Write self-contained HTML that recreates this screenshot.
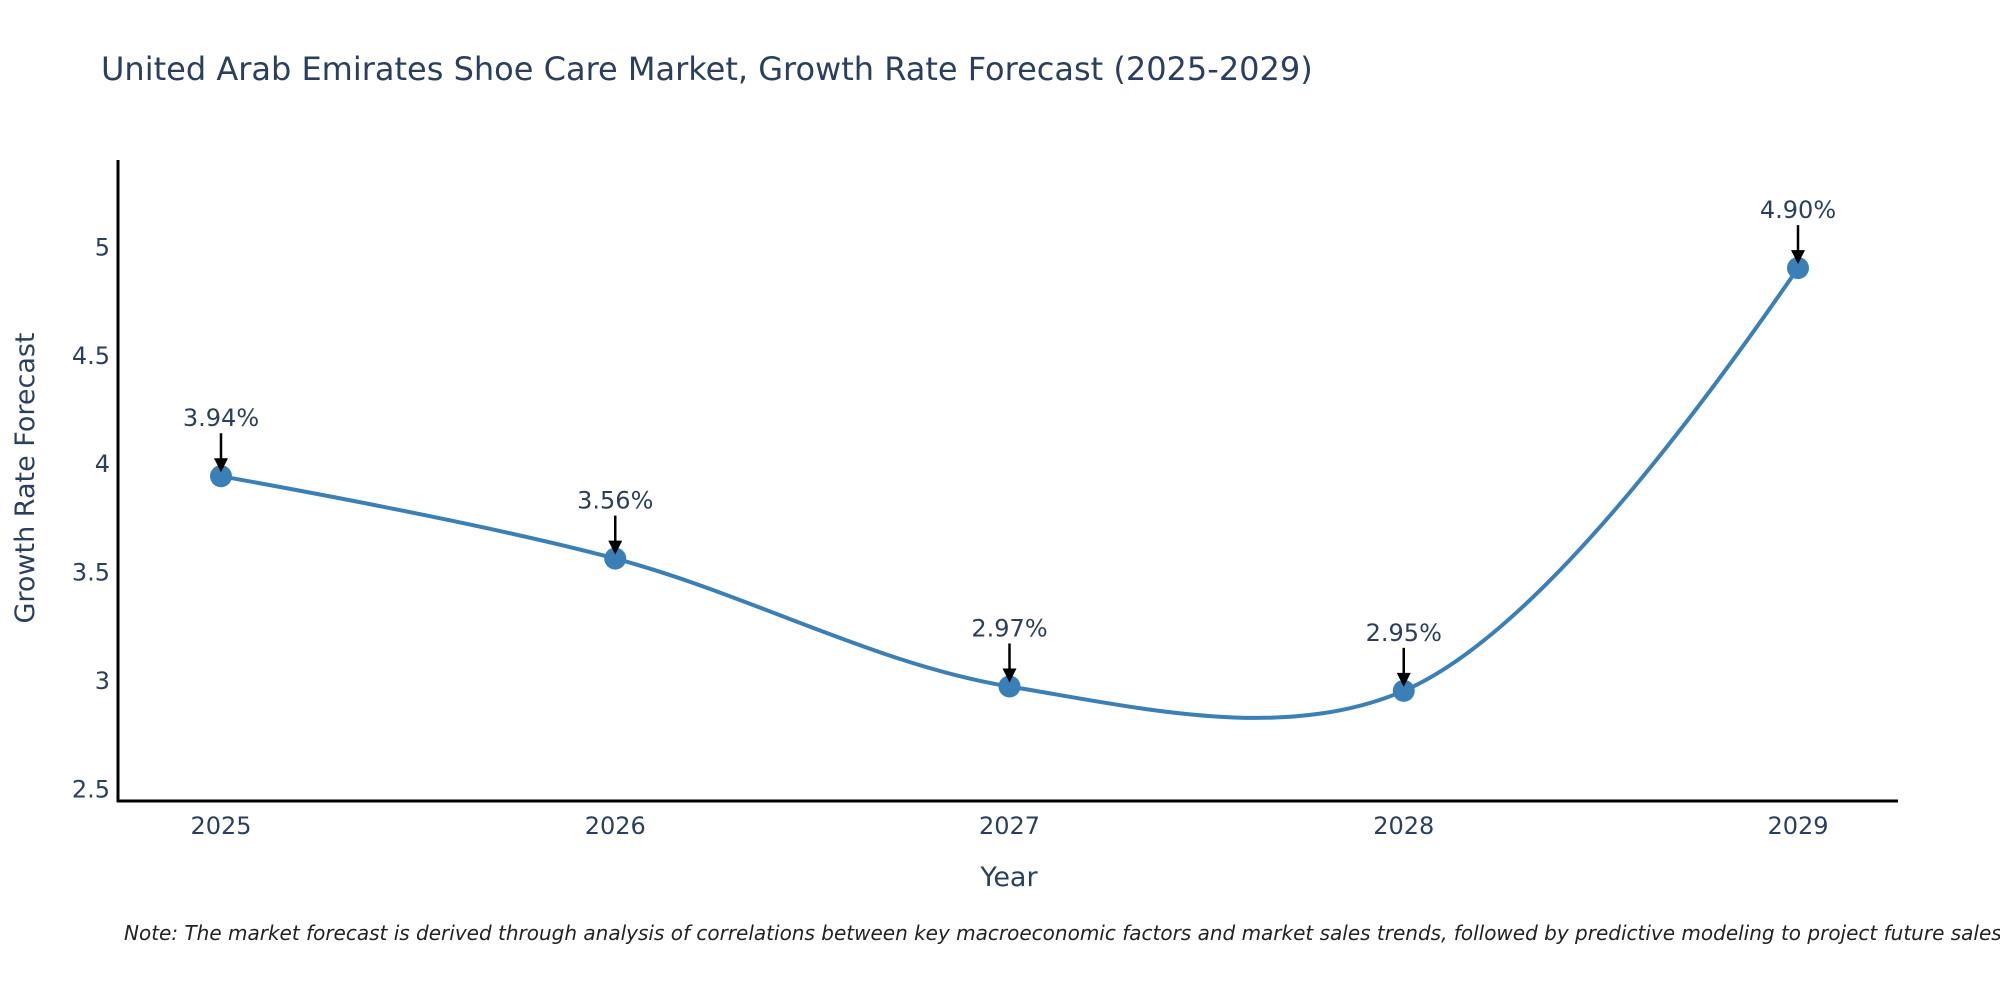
<!DOCTYPE html>
<html><head><meta charset="utf-8"><style>
body{margin:0;background:#fff;}
svg{display:block;font-family:"DejaVu Sans","Liberation Sans",sans-serif;}
</style></head><body>
<svg id="chart" width="2000" height="1000" viewBox="0 0 2000 1000">
<text x="101" y="80" font-size="32" fill="#2a3f5f">United Arab Emirates Shoe Care Market, Growth Rate Forecast (2025-2029)</text>
<g id="yticks"></g><g id="xticks"></g>
<line x1="118" y1="160" x2="118" y2="802" stroke="#000" stroke-width="3"/>
<line x1="117" y1="801" x2="1898" y2="801" stroke="#000" stroke-width="3"/>
<path id="line" fill="none" stroke="#3a7fb5" stroke-width="4"/>
<g id="marks"></g>
<text x="34" y="478" font-size="27" fill="#2a3f5f" text-anchor="middle" transform="rotate(-90 34 478)">Growth Rate Forecast</text>
<text x="1009" y="886" font-size="27" fill="#2a3f5f" text-anchor="middle">Year</text>
<text x="124" y="940" font-size="20" font-style="italic" fill="#222">Note: The market forecast is derived through analysis of correlations between key macroeconomic factors and market sales trends, followed by predictive modeling to project future sales.</text>
</svg>
<script>
const years = [2025, 2026, 2027, 2028, 2029];
const rates = [3.94, 3.56, 2.97, 2.95, 4.90];
const labels = ["3.94%", "3.56%", "2.97%", "2.95%", "4.90%"];
const yTicks = [2.5, 3, 3.5, 4, 4.5, 5];
const NS = "http://www.w3.org/2000/svg";
function xs(v){ return 221 + (v - 2025) * 394.25; }
function ys(v){ return 680 - (v - 3) * 216.8; }
function mk(tag, attrs, parent){ const e=document.createElementNS(NS,tag); for(const k in attrs) e.setAttribute(k,attrs[k]); parent.appendChild(e); return e; }
const yt=document.getElementById('yticks');
yTicks.forEach(t=>{
  const e=mk('text',{x:110,y:ys(t)+9,'font-size':24,fill:'#2a3f5f','text-anchor':'end'},yt);
  
  
  e.textContent=String(t);
});
const xt=document.getElementById('xticks');
years.forEach(y=>{
  const e=mk('text',{x:xs(y),y:834,'font-size':24,fill:'#2a3f5f','text-anchor':'middle'},xt);
  
  
  e.textContent=String(y);
});
const pts=years.map((y,i)=>[xs(y),ys(rates[i])]);
function tangent(p0,p1,p2,s){
  const d1x=p0[0]-p1[0],d1y=p0[1]-p1[1],d2x=p2[0]-p1[0],d2y=p2[1]-p1[1];
  const d1a=Math.pow(d1x*d1x+d1y*d1y,0.25),d2a=Math.pow(d2x*d2x+d2y*d2y,0.25);
  const nx=(d2a*d2a*d1x-d1a*d1a*d2x)*s,ny=(d2a*d2a*d1y-d1a*d1a*d2y)*s;
  const den1=3*d2a*(d1a+d2a),den2=3*d1a*(d1a+d2a);
  return [[p1[0]+nx/den1,p1[1]+ny/den1],[p1[0]-nx/den2,p1[1]-ny/den2]];
}
const tg=[];
for(let i=1;i<pts.length-1;i++) tg.push(tangent(pts[i-1],pts[i],pts[i+1],1));
let d='M'+pts[0]+' Q'+tg[0][0]+' '+pts[1];
for(let i=2;i<pts.length-1;i++) d+=' C'+tg[i-2][1]+' '+tg[i-1][0]+' '+pts[i];
d+=' Q'+tg[tg.length-1][1]+' '+pts[pts.length-1];
document.getElementById('line').setAttribute('d',d);
const mg=document.getElementById('marks');
pts.forEach((p,i)=>{
  const c=mk('circle',{cx:p[0],cy:p[1],r:11,fill:'#3a7fb5'},mg);
  
  
  const a=mk('line',{x1:p[0],y1:p[1]-43,x2:p[0],y2:p[1]-14,stroke:'#000','stroke-width':2.5},mg);
  
  
  const h=mk('polygon',{points:`${p[0]-7},${p[1]-18} ${p[0]+7},${p[1]-18} ${p[0]},${p[1]-4}`,fill:'#000'},mg);
  
  
  const t=mk('text',{x:p[0],y:p[1]-50,'font-size':24,fill:'#2a3f5f','text-anchor':'middle'},mg);
  
  
  t.textContent=labels[i];
});
</script>
</body></html>
